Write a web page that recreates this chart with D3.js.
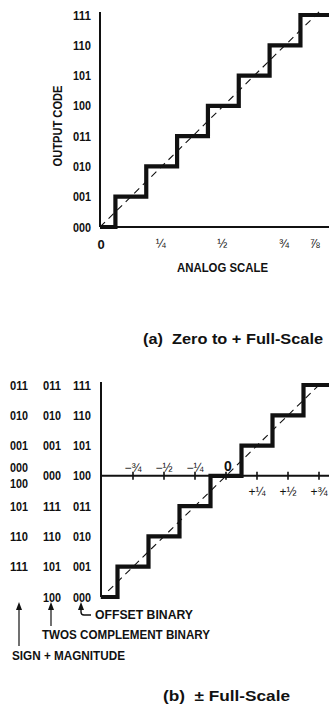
<!DOCTYPE html>
<html>
<head>
<meta charset="utf-8">
<script src="https://cdn.jsdelivr.net/npm/d3@7/dist/d3.min.js"></script>
<style>
  html, body { margin: 0; padding: 0; background: #fff; }
  svg { display: block; }
  text { font-family: "Liberation Sans", Arial, Helvetica, sans-serif; fill: #111; }
</style>
</head>
<body>
<svg id="chart" width="329" height="704"></svg>
<script>
// ---- (a) unipolar converter: zero to + full scale ----
const codesA = ["000", "001", "010", "011", "100", "101", "110", "111"];
const tickValuesA = [0, 0.25, 0.5, 0.75, 0.875];
const tickLabelsA = ["0", "¼", "½", "¾", "⅞"];
// analog input where the output code steps up by one
const thresholdsA = [0.0625, 0.1875, 0.3125, 0.4375, 0.5625, 0.6875, 0.8125];
const idealA = [[0, 0], [0.894, 7.15]];

// ---- (b) bipolar converter: ± full scale ----
const codesOffsetBinary = ["000", "001", "010", "011", "100", "101", "110", "111"];
const codesTwosComplement = ["100", "101", "110", "111", "000", "001", "010", "011"];
const codesSignMagnitude = ["", "111", "110", "101", "000\n100", "001", "010", "011"];
const tickValuesB = [-0.75, -0.5, -0.25, 0, 0.25, 0.5, 0.75];
const tickLabelsB = ["−¾", "−½", "−¼", "0", "+¼", "+½", "+¾"];
const thresholdsB = [-0.875, -0.625, -0.375, -0.125, 0.125, 0.375, 0.625];
const idealB = [[-0.95, 0.2], [0.775, 7.1]];

const svg = d3.select("#chart");
const ink = "#111";

function staircase(g, x, y, thresholds, x0, x1) {
  const pts = [[x0, 0]].concat(thresholds.map((t, i) => [t, i + 1])).concat([[x1, thresholds.length]]);
  g.append("path")
    .attr("d", d3.line().x(d => x(d[0])).y(d => y(d[1])).curve(d3.curveStepAfter)(pts))
    .attr("fill", "none").attr("stroke", ink).attr("stroke-width", 4.2)
    .attr("stroke-linejoin", "miter");
}

function ideal(g, x, y, pts) {
  g.append("path")
    .attr("d", d3.line().x(d => x(d[0])).y(d => y(d[1]))(pts))
    .attr("fill", "none").attr("stroke", ink).attr("stroke-width", 1.1)
    .attr("stroke-dasharray", "7,5");
}

function codeLabels(g, y, codes, xRight) {
  codes.forEach((c, i) => {
    const lines = c.split("\n");
    lines.forEach((s, j) => {
      if (!s) return;
      const dy = lines.length > 1 ? (j === 0 ? -8 : 8) : 0;
      g.append("text")
        .attr("x", xRight).attr("y", y(i) + dy)
        .attr("dy", "0.36em")
        .attr("text-anchor", "end")
        .attr("font-size", 12.5).attr("font-weight", "bold")
        .attr("textLength", 18).attr("lengthAdjust", "spacingAndGlyphs")
        .text(s);
    });
  });
}

// ================= chart (a) =================
{
  const x = d3.scaleLinear().domain([0, 1]).range([100, 346.7]);
  const y = d3.scaleLinear().domain([0, 7]).range([227, 15]);
  const g = svg.append("g");

  // axes
  g.append("line").attr("x1", x(0)).attr("x2", x(0)).attr("y1", 12).attr("y2", y(0))
    .attr("stroke", ink).attr("stroke-width", 2);
  g.append("line").attr("x1", x(0)).attr("x2", 329).attr("y1", y(0)).attr("y2", y(0))
    .attr("stroke", ink).attr("stroke-width", 2);

  ideal(g, x, y, idealA);
  staircase(g, x, y, thresholdsA, 0, 1.1);

  codeLabels(g, y, codesA, 91);

  tickValuesA.forEach((v, i) => {
    g.append("text")
      .attr("x", x(v) + (i === 0 ? 1 : -1)).attr("y", 244)
      .attr("dy", "0.36em").attr("text-anchor", "middle")
      .attr("font-size", i === 0 ? 13 : 12).attr("font-weight", i === 0 ? "bold" : "normal")
      .text(tickLabelsA[i]);
  });

  g.append("text")
    .attr("x", 222.5).attr("y", 267.5).attr("dy", "0.36em")
    .attr("text-anchor", "middle").attr("font-size", 12).attr("font-weight", "bold")
    .attr("textLength", 91).attr("lengthAdjust", "spacingAndGlyphs")
    .text("ANALOG SCALE");

  g.append("text")
    .attr("transform", "translate(58,126) rotate(-90)")
    .attr("dy", "0.36em").attr("text-anchor", "middle")
    .attr("font-size", 12).attr("font-weight", "bold")
    .attr("textLength", 81).attr("lengthAdjust", "spacingAndGlyphs")
    .text("OUTPUT CODE");

  g.append("text")
    .attr("x", 143).attr("y", 344)
    .attr("font-size", 14).attr("font-weight", "bold")
    .attr("textLength", 180).attr("lengthAdjust", "spacingAndGlyphs")
    .attr("xml:space", "preserve")
    .text("(a)  Zero to + Full-Scale");
}

// ================= chart (b) =================
{
  const x = d3.scaleLinear().domain([-1, 1]).range([102, 350]);
  const y = d3.scaleLinear().domain([0, 7]).range([597, 385]);
  const g = svg.append("g");
  const yMid = y(4);

  // vertical axis and mid-scale horizontal axis
  g.append("line").attr("x1", 101).attr("x2", 101).attr("y1", 382).attr("y2", y(0))
    .attr("stroke", ink).attr("stroke-width", 2);
  g.append("line").attr("x1", 101).attr("x2", 329).attr("y1", yMid).attr("y2", yMid)
    .attr("stroke", ink).attr("stroke-width", 2);

  tickValuesB.forEach(v => {
    g.append("line").attr("x1", x(v)).attr("x2", x(v)).attr("y1", yMid - 4).attr("y2", yMid + 4)
      .attr("stroke", ink).attr("stroke-width", 1.6);
  });

  ideal(g, x, y, idealB);
  staircase(g, x, y, thresholdsB, -1.01, 1.1);

  tickValuesB.forEach((v, i) => {
    const neg = v < 0, zero = v === 0;
    g.append("text")
      .attr("x", x(v) + (zero ? 2 : 0)).attr("y", zero ? 466 : (neg ? 468 : 492))
      .attr("dy", "0.36em").attr("text-anchor", "middle")
      .attr("font-size", zero ? 14 : 12).attr("font-weight", zero ? "bold" : "normal")
      .text(tickLabelsB[i]);
  });

  codeLabels(g, y, codesOffsetBinary, 91);
  codeLabels(g, y, codesTwosComplement, 61);
  codeLabels(g, y, codesSignMagnitude, 28);

  // pointers naming each code column
  const arrowHead = (cx, tip) =>
    g.append("path").attr("d", `M${cx},${tip} L${cx - 3},${tip + 8} L${cx + 3},${tip + 8} Z`).attr("fill", ink);

  arrowHead(19, 602);
  g.append("line").attr("x1", 19).attr("x2", 19).attr("y1", 608).attr("y2", 646)
    .attr("stroke", ink).attr("stroke-width", 1.2);
  arrowHead(51, 602);
  g.append("line").attr("x1", 51).attr("x2", 51).attr("y1", 608).attr("y2", 626)
    .attr("stroke", ink).attr("stroke-width", 1.2);
  arrowHead(81, 602);
  g.append("path").attr("d", "M81,608 L81,612 Q81,615 84,615 L91,615")
    .attr("fill", "none").attr("stroke", ink).attr("stroke-width", 1.4);

  const note = (x0, yc, len, s) =>
    g.append("text").attr("x", x0).attr("y", yc).attr("dy", "0.36em")
      .attr("font-size", 12.5).attr("font-weight", "bold")
      .attr("textLength", len).attr("lengthAdjust", "spacingAndGlyphs")
      .text(s);
  note(95, 614, 98, "OFFSET BINARY");
  note(42, 634, 168, "TWOS COMPLEMENT BINARY");
  note(12, 655, 113, "SIGN + MAGNITUDE");

  g.append("text")
    .attr("x", 163).attr("y", 701)
    .attr("font-size", 14).attr("font-weight", "bold")
    .attr("textLength", 127).attr("lengthAdjust", "spacingAndGlyphs")
    .attr("xml:space", "preserve")
    .text("(b)  ± Full-Scale");
}
</script>
</body>
</html>
